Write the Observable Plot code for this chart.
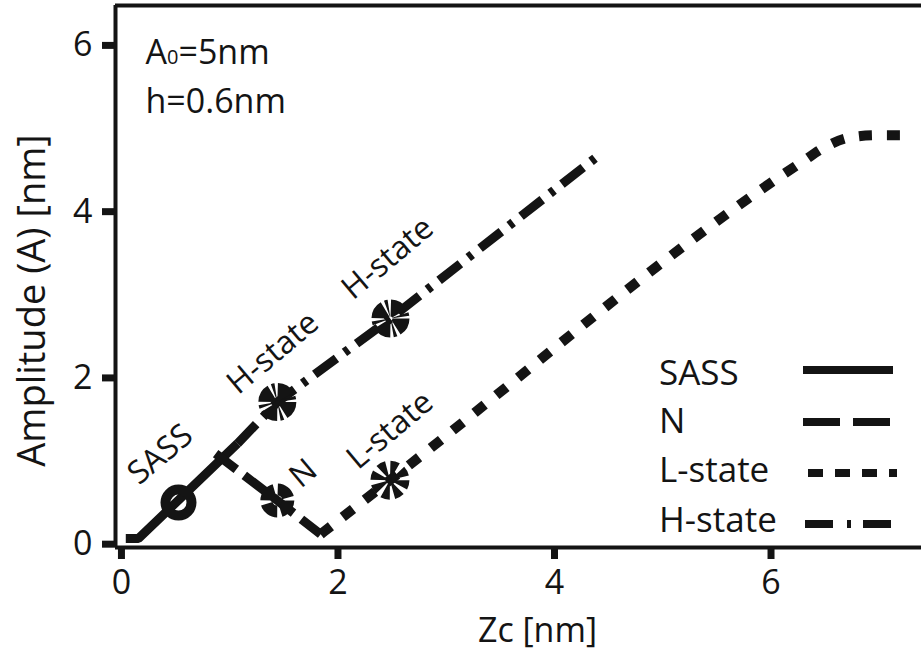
<!DOCTYPE html>
<html><head><meta charset="utf-8">
<script src="https://cdn.jsdelivr.net/npm/d3@7"></script>
<script src="https://cdn.jsdelivr.net/npm/@observablehq/plot@0.6"></script>
<style>
html,body{margin:0;padding:0;background:#fff;}
#chart{position:relative;width:921px;height:650px;overflow:hidden;}
</style></head><body><div id="chart"></div>
<script>
// ---- data ----
const xTicks = [0, 2, 4, 6];
const yTicks = [0, 2, 4, 6];
const xDomain = [-0.055, 7.39];
const yDomain = [-0.04, 6.48];

const seriesNames = ["SASS", "N", "L-state", "H-state"];

const sassX = [0.04, 0.157, 1.072];
const sassY = [0.068, 0.068, 1.21];

const nX = [0.87, 1.44, 1.84];
const nY = [1.09, 0.525, 0.12];

const lX = [1.84, 2.48, 6.30, 6.49, 6.72, 6.97, 7.31];
const lY = [0.12, 0.77, 4.61, 4.77, 4.89, 4.92, 4.92];

const hX = [1.072, 1.44, 2.485, 4.406];
const hY = [1.21, 1.71, 2.715, 4.675];

const markerSeries = ["SASS", "N", "H-state", "H-state", "L-state"];
const markerX = [0.527, 1.44, 1.44, 2.485, 2.48];
const markerY = [0.50, 0.525, 1.71, 2.715, 0.77];

const labelText = ["SASS", "H-state", "H-state", "N", "L-state"];
const labelX = [0.36, 1.40, 2.46, 1.68, 2.48];
const labelY = [1.08, 2.30, 3.44, 0.85, 1.37];

const annotationLines = ["A0=5nm", "h=0.6nm"];
const xLabel = "Zc [nm]";
const yLabel = "Amplitude (A) [nm]";

// ---- styles ----
const ink = "#141414";
const font = "'Open Sans', 'Noto Sans', sans-serif";
const lineDash = {"SASS": null, "N": "26,10", "L-state": "13,15", "H-state": "27,10,5,10"};
const lineWidth = {"SASS": 9, "N": 9, "L-state": 10, "H-state": 9};
const markerStyle = {
  "SASS": {r: 13, sw: 10, dash: null},
  "N": {r: 11, sw: 12, dash: "13.8,3.5"},
  "H-state": {r: 10.5, sw: 17, dash: "10.5,2,2,2"},
  "L-state": {r: 10, sw: 19, dash: "5,2.85"}
};

const toRows = (xs, ys) => xs.map((x, i) => ({x, y: ys[i]}));
const curves = {
  "SASS": toRows(sassX, sassY),
  "N": toRows(nX, nY),
  "L-state": toRows(lX, lY),
  "H-state": toRows(hX, hY)
};
const markers = markerX.map((x, i) => ({series: markerSeries[i], x, y: markerY[i]}));
const labels = labelText.map((t, i) => ({t, x: labelX[i], y: labelY[i]}));

const lineMarks = seriesNames.map(s => Plot.line(curves[s], {
  x: "x", y: "y", stroke: ink, strokeWidth: lineWidth[s],
  strokeDasharray: lineDash[s] || undefined,
  strokeLinecap: "butt", strokeLinejoin: "miter",
  curve: s === "L-state" ? "monotone-x" : "linear"
}));

const markerMarks = ["SASS", "N", "H-state", "L-state"].map(s => Plot.dot(markers.filter(d => d.series === s), {
  x: "x", y: "y", r: markerStyle[s].r, fill: "none", stroke: ink,
  strokeWidth: markerStyle[s].sw, strokeDasharray: markerStyle[s].dash || undefined
}));

const plot = Plot.plot({
  width: 921, height: 650,
  marginLeft: 115, marginRight: 0, marginTop: 5, marginBottom: 103,
  x: {domain: xDomain},
  y: {domain: yDomain},
  style: {fontFamily: font, color: ink, background: "white", overflow: "visible"},
  marks: [
    ...lineMarks,
    ...markerMarks,
    Plot.text(labels, {x: "x", y: "y", text: "t", rotate: -40, fontSize: 32, fill: ink,
      textAnchor: "middle", lineAnchor: "middle"}),
    Plot.text([annotationLines[0]], {frameAnchor: "top-left", dx: 30, dy: 58, text: d => d,
      textAnchor: "start", lineAnchor: "bottom", fontSize: 34, fill: ink}),
    Plot.text([annotationLines[1]], {frameAnchor: "top-left", dx: 30, dy: 107, text: d => d,
      textAnchor: "start", lineAnchor: "bottom", fontSize: 34, fill: ink}),
    Plot.ruleX([xDomain[0]], {stroke: ink, strokeWidth: 4}),
    Plot.ruleY([yDomain[0], yDomain[1]], {stroke: ink, strokeWidth: 4}),
    Plot.axisY({ticks: yTicks, tickSize: 13, tickPadding: 10, strokeWidth: 7, fontSize: 34,
      label: null, tickFormat: d => String(d), fill: ink, stroke: ink}),
    Plot.axisX({ticks: xTicks, tickSize: 12, tickPadding: 10, strokeWidth: 7, fontSize: 34,
      label: null, tickFormat: d => String(d), fill: ink, stroke: ink}),
    Plot.text([yLabel], {frameAnchor: "left", dx: -83, dy: 24, rotate: -90, text: d => d,
      textAnchor: "middle", lineAnchor: "middle", fontSize: 38, fill: ink}),
    Plot.text([xLabel], {frameAnchor: "bottom", dx: 19, dy: 94, text: d => d,
      textAnchor: "middle", lineAnchor: "bottom", fontSize: 34, fill: ink})
  ]
});

// subscript for A0
const svg = d3.select(plot);
svg.selectAll("text").filter(function() { return this.textContent === annotationLines[0]; })
  .each(function() {
    const t = d3.select(this);
    t.text("");
    t.append("tspan").text("A");
    t.append("tspan").attr("font-size", 20).text("0");
    t.append("tspan").text("=5nm");
  });

// legend
const legendBaseline = [385, 433, 482, 532];
const legendSwatchY = [370, 422, 473, 524];
const legendSwatchX = [[803, 893], [803, 890], [808, 897], [805, 893]];
const legendDash = {"SASS": null, "N": "37,13", "L-state": "15,12", "H-state": "28,14,4,12"};
const lg = svg.append("g").attr("font-family", font).attr("font-size", 35)
  .attr("fill", ink).attr("text-anchor", "start");
seriesNames.forEach((name, i) => {
  lg.append("text").attr("x", 659).attr("y", legendBaseline[i]).attr("text-anchor", "start").text(name);
  const ln = lg.append("line")
    .attr("x1", legendSwatchX[i][0]).attr("x2", legendSwatchX[i][1])
    .attr("y1", legendSwatchY[i]).attr("y2", legendSwatchY[i])
    .attr("stroke", ink).attr("stroke-width", 8).attr("stroke-linecap", "butt");
  if (legendDash[name]) ln.attr("stroke-dasharray", legendDash[name]);
});

document.getElementById("chart").appendChild(plot);
</script></body></html>
